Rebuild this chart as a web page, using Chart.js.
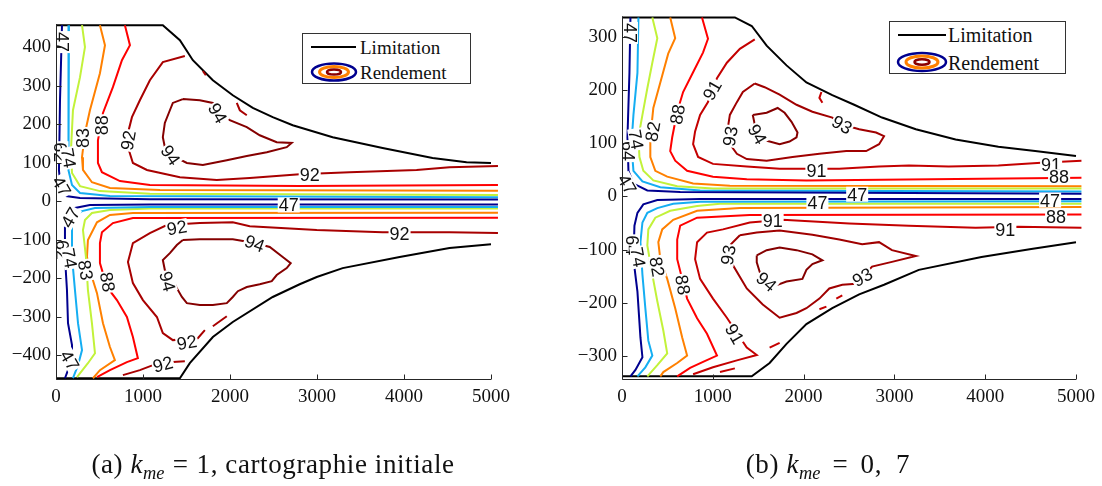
<!DOCTYPE html>
<html><head><meta charset="utf-8">
<script src="https://cdn.jsdelivr.net/npm/chart.js@4/dist/chart.umd.min.js"></script>
<style>
body{margin:0;width:1102px;height:486px;background:#fff;position:relative;overflow:hidden;font-family:'Liberation Serif','Times New Roman',serif;color:#111}
canvas{position:absolute;top:0}
#cA{left:0}
#cB{left:560px}
.leg{position:absolute;border:1px solid #333;background:#fff;box-sizing:border-box}
.leg .t{position:absolute;white-space:nowrap;line-height:1;font-size:19px}
.leg svg{position:absolute;left:0;top:0}
.cap{position:absolute;top:449px;text-align:center;font-size:27px;letter-spacing:0.6px;white-space:nowrap}
.cap sub{font-size:68%;vertical-align:-0.3em;letter-spacing:0}
.cap .op{margin:0 0.3em}
.cap .opb{margin:0 0.45em}
</style></head>
<body>
<canvas id="cA" width="520" height="486"></canvas>
<canvas id="cB" width="542" height="486"></canvas>

<div class="leg" style="left:302px;top:33px;width:169px;height:51px">
  <svg width="169" height="51"><line x1="8" y1="13" x2="53" y2="13" stroke="#000" stroke-width="2"/>
  <ellipse cx="31" cy="38" rx="22" ry="8.5" fill="none" stroke="#00008F" stroke-width="2.5"/>
  <ellipse cx="31" cy="38" rx="14.5" ry="5.5" fill="none" stroke="#FF8000" stroke-width="3"/>
  <ellipse cx="31" cy="38" rx="7" ry="2.6" fill="none" stroke="#8B0000" stroke-width="2.5"/></svg>
  <span class="t" style="left:57px;top:4px">Limitation</span>
  <span class="t" style="left:57px;top:29px">Rendement</span>
</div>
<div class="leg" style="left:889px;top:21px;width:177px;height:53px">
  <svg width="177" height="53"><line x1="8" y1="13" x2="56" y2="13" stroke="#000" stroke-width="2"/>
  <ellipse cx="32" cy="40" rx="24" ry="9" fill="none" stroke="#00008F" stroke-width="2.5"/>
  <ellipse cx="32" cy="40" rx="16" ry="6" fill="none" stroke="#FF8000" stroke-width="3"/>
  <ellipse cx="32" cy="40" rx="7.5" ry="2.8" fill="none" stroke="#8B0000" stroke-width="2.5"/></svg>
  <span class="t" style="left:58px;top:3px;font-size:20px">Limitation</span>
  <span class="t" style="left:58px;top:31px;font-size:20px">Rendement</span>
</div>

<div class="cap" style="left:53px;width:440px">(a) <i>k</i><sub><i>me</i></sub><span class="op">=</span>1, cartographie initiale</div>
<div class="cap" style="left:678px;width:300px">(b) <i>k</i><sub><i>me</i></sub><span class="opb">=</span>0,&ensp;7</div>

<script>
// ---------- tick labels ----------
const xTicks = [0, 1000, 2000, 3000, 4000, 5000];
const yTicksA = [-400, -300, -200, -100, 0, 100, 200, 300, 400];
const yTicksB = [-300, -200, -100, 0, 100, 200, 300];

// ---------- chart (a): k_me = 1 ----------
const limA_top = [[0,457],[1228,457],[1424,418],[1573,366],[1803,314],[2032,275],[2262,242],[2491,218],[2721,197],[3180,166],[3754,138],[4328,112],[4719,101],[5000,99]];
const limA_bot = [[0,-460],[1424,-460],[1538,-421],[1803,-353],[2032,-314],[2491,-249],[2801,-216],[2997,-197],[3295,-174],[3950,-145],[4523,-122],[5000,-112]];
const a47_up = [[69,457],[46,262],[34,80],[57,29],[115,13],[276,8],[1079,5],[5080,4]];
const a62_up = [[149,457],[138,184],[149,80],[184,42],[276,21],[620,13],[5080,10]];
const a74_up = [[299,457],[333,400],[276,322],[195,236],[172,132],[184,73],[276,39],[505,26],[1079,19],[5080,16]];
const a83_up = [[505,457],[563,405],[505,332],[390,236],[333,177],[299,114],[310,81],[413,49],[620,34],[1194,29],[5080,27]];
const a88_up = [[792,457],[850,405],[758,366],[654,296],[540,229],[482,158],[482,99],[528,75],[735,52],[1079,42],[2801,39],[5080,42]];
const a92_up = [[1481,377],[1228,361],[1079,314],[964,262],[873,218],[827,177],[827,140],[884,99],[1045,81],[1424,62],[1848,55],[2227,60],[2801,70],[3375,75],[4145,81],[4523,88],[5080,91]];
const a92_upD1 = [[1688,338],[1722,327]];
const a92_upD2 = [[2078,255],[2113,236],[2193,223]];
const a94_up = [[1458,265],[1653,262],[1803,255],[1998,210],[2193,192],[2342,171],[2537,153],[2709,151],[2652,140],[2423,127],[2193,117],[1963,106],[1688,94],[1504,99],[1389,112],[1251,140],[1228,166],[1251,203],[1309,236],[1343,255],[1458,265]];
const a47_lo = [[5080,-9],[1079,-9],[390,-10],[218,-18],[138,-31],[103,-62],[103,-145],[126,-231],[138,-317],[184,-374],[184,-405],[138,-439],[103,-460]];
const a62_lo = [[5080,-15],[1079,-15],[448,-18],[299,-26],[218,-39],[184,-62],[184,-145],[218,-231],[253,-317],[299,-387],[253,-426],[195,-460]];
const a74_lo = [[5080,-19],[1079,-19],[620,-23],[413,-31],[333,-49],[310,-75],[344,-145],[367,-231],[413,-317],[448,-395],[367,-421],[241,-457]];
const a83_lo = [[5080,-30],[884,-31],[620,-36],[471,-55],[367,-101],[356,-145],[413,-197],[471,-239],[540,-317],[620,-379],[677,-413],[505,-439],[425,-460]];
const a88_lo = [[5080,-43],[884,-44],[654,-57],[528,-81],[505,-109],[505,-161],[586,-223],[700,-257],[815,-301],[884,-353],[941,-408],[815,-418],[620,-439],[471,-457]];
const a92_lo = [[5080,-83],[4523,-81],[3754,-81],[2997,-75],[2227,-65],[2032,-55],[1653,-57],[1274,-62],[1079,-83],[884,-109],[827,-158],[884,-213],[999,-257],[1160,-301],[1228,-343],[1343,-361],[1630,-356],[1711,-335]];
const a92_loD = [[1803,-325],[1963,-299]];
const a92_loB = [[769,-452],[964,-439],[1114,-426],[1343,-418],[1481,-416]];
const a94_lo = [[1458,-101],[1653,-99],[2032,-99],[2285,-109],[2457,-119],[2606,-145],[2698,-161],[2652,-174],[2537,-192],[2480,-208],[2342,-216],[2193,-223],[2090,-234],[2032,-249],[1963,-265],[1803,-270],[1653,-270],[1504,-265],[1447,-249],[1389,-226],[1343,-205],[1251,-179],[1228,-153],[1309,-135],[1389,-114],[1458,-101]];
// contour labels: [text, x, y, angle°]
const labA = [['47',80,413,90],['62',57,127,90],['74',149,112,80],['83',310,164,-90],['88',528,197,-90],['92',827,158,-80],
  ['94',1860,229,60],['94',1320,120,55],['92',2916,70,0],['47',69,39,60],['47',2675,-10,0],['47',161,-42,-60],
  ['62',69,-127,90],['74',161,-148,80],['83',344,-179,80],['88',597,-210,80],['92',1389,-68,-10],['94',2285,-109,20],
  ['94',1286,-208,75],['92',3949,-83,0],['92',1504,-366,-10],['92',1228,-423,-15],['47',161,-413,60]];

// ---------- chart (b): k_me = 0,7 ----------
const limB_top = [[0,336],[1243,336],[1429,320],[1593,283],[1812,246],[2031,214],[2316,190],[2557,172],[2864,148],[3236,126],[3674,107],[4145,93],[4550,85],[5000,76]];
const limB_bot = [[0,-338],[1429,-338],[1626,-313],[1812,-277],[2031,-240],[2316,-210],[2612,-184],[2886,-166],[3269,-138],[3959,-114],[4507,-99],[5000,-86]];
const b47_up = [[93,336],[82,232],[60,111],[71,48],[126,24],[279,11],[641,8],[5060,5]];
const b64_up = [[181,336],[170,232],[126,153],[104,98],[126,48],[225,28],[422,17],[860,11],[5060,9]];
const b74_up = [[334,336],[389,297],[334,251],[279,203],[225,153],[181,111],[192,74],[235,48],[345,30],[608,19],[1002,15],[5060,15]];
const b82_up = [[531,336],[586,297],[509,268],[422,214],[345,166],[312,111],[312,74],[367,48],[498,37],[783,24],[1188,20],[5060,19]];
const b88_up = [[881,336],[947,296],[892,270],[783,233],[673,196],[608,159],[553,111],[531,85],[586,67],[717,48],[1002,37],[1374,32],[2031,30],[5060,35]];
const b91_up = [[1462,295],[1298,277],[1155,251],[1046,222],[947,177],[860,153],[805,122],[783,98],[838,74],[1002,61],[1374,56],[1736,52],[2393,52],[2831,56],[3160,58],[3598,56],[4145,58],[4616,63],[5060,67]];
const b91_upF = [[2196,196],[2174,185],[2207,176]];
const b93_up = [[1462,212],[1331,196],[1265,177],[1188,153],[1166,129],[1188,98],[1265,80],[1374,70],[1593,67],[1878,74],[2174,80],[2470,85],[2689,85],[2831,98],[2886,113],[2798,120],[2612,126],[2426,135],[2316,148],[2097,159],[1922,172],[1736,191],[1571,205],[1462,212]];
const b94_up = [[1440,153],[1593,157],[1714,166],[1791,157],[1867,140],[1933,120],[1922,111],[1845,103],[1736,98],[1626,103],[1538,107],[1462,135],[1440,153]];
const b47_lo = [[5060,-5],[860,-5],[389,-7],[235,-15],[170,-31],[137,-55],[126,-118],[170,-179],[203,-265],[225,-302],[148,-326],[93,-338]];
const b64_lo = [[5060,-9],[860,-10],[564,-14],[389,-22],[279,-31],[225,-49],[203,-86],[225,-147],[257,-210],[290,-271],[334,-299],[257,-321],[170,-338]];
const b74_lo = [[5060,-14],[1079,-14],[827,-18],[531,-27],[367,-40],[290,-62],[279,-92],[334,-147],[389,-197],[455,-252],[498,-295],[389,-317],[279,-338]];
const b82_lo = [[5060,-20],[1298,-22],[827,-27],[564,-44],[443,-62],[400,-86],[422,-118],[498,-155],[586,-210],[663,-265],[717,-299],[608,-313],[455,-330],[422,-338]];
const b88_lo = [[5060,-34],[1407,-35],[827,-40],[641,-55],[608,-81],[608,-118],[717,-192],[827,-229],[936,-258],[1046,-299],[893,-311],[750,-322],[608,-338]];
const b91_lo = [[5060,-59],[4365,-57],[3894,-59],[3160,-55],[2503,-51],[1769,-44],[1407,-49],[1112,-62],[936,-68],[827,-86],[805,-118],[860,-155],[1002,-192],[1155,-228],[1374,-284],[1484,-298],[1265,-308],[1002,-321],[783,-334]];
const b91_loD1 = [[1079,-330],[1243,-323]];
const b91_loD2 = [[1626,-284],[1736,-275]];
const b91_loD3 = [[2174,-212],[2251,-207]];
const b91_loD4 = [[2360,-192],[2426,-186]];
const b93_lo = [[1298,-73],[1484,-68],[1736,-64],[2097,-72],[2393,-81],[2645,-90],[2831,-86],[2973,-101],[3236,-112],[2973,-123],[2754,-132],[2579,-164],[2426,-166],[2283,-173],[2174,-192],[2031,-210],[1922,-219],[1736,-228],[1550,-203],[1374,-173],[1221,-129],[1188,-92],[1298,-73]];
const b94_lo = [[1484,-111],[1593,-101],[1736,-96],[1922,-101],[2097,-109],[2207,-120],[2097,-127],[2031,-138],[1987,-155],[1812,-160],[1681,-168],[1517,-142],[1484,-124],[1484,-111]];
const labB = [['47',93,307,90],['64',71,85,90],['74',159,107,80],['82',334,122,-80],['88',608,154,-80],['91',991,200,-60],
  ['93',1188,113,-80],['94',1495,117,60],['93',2426,135,30],['91',2141,48,0],['47',60,23,60],['47',2152,-11,0],
  ['47',2590,4,0],['91',4726,59,0],['88',4814,37,0],['47',4715,-7,0],['88',4781,-37,0],['91',4222,-62,0],
  ['91',1659,-46,0],['64',115,-92,90],['74',181,-114,80],['82',389,-132,80],['88',673,-166,80],['93',1166,-110,-80],
  ['94',1593,-160,40],['91',1243,-258,60],['93',2645,-151,-30]];

// ---------- colours ----------
const C = {k:'#000000', c47:'#00008F', c62:'#15AEF2', c74:'#C2F23A', c83:'#FF8000', c88:'#FF0000',
           c91:'#C40000', c92:'#A80000', c93:'#A00000', c94:'#850000'};

function ds(arr, color, w){
  return {data: arr.map(p => ({x:p[0], y:p[1]})), borderColor: color, backgroundColor: color,
          borderWidth: w || 2, showLine: true, pointRadius: 0, fill: false, tension: 0, clip: false};
}
function labelPlugin(labels){
  return {id:'clabels', afterDatasetsDraw(chart){
    const ctx = chart.ctx, xs = chart.scales.x, ys = chart.scales.y;
    ctx.save();
    ctx.font = '18px "Liberation Sans", Arial, sans-serif';
    for (const [t, vx, vy, ang] of labels){
      const px = xs.getPixelForValue(vx), py = ys.getPixelForValue(vy);
      ctx.save(); ctx.translate(px, py); ctx.rotate(ang * Math.PI / 180);
      const w = ctx.measureText(t).width;
      ctx.fillStyle = '#fff'; ctx.fillRect(-w/2 - 1, -7.5, w + 2, 15);
      ctx.fillStyle = '#111'; ctx.textAlign = 'center'; ctx.textBaseline = 'alphabetic';
      ctx.fillText(t, 0, 6.5);
      ctx.restore();
    }
    ctx.restore();
  }};
}
function axesPlugin(xT, yT){
  return {id:'axes', afterDraw(chart){
    const ctx = chart.ctx, a = chart.chartArea, xs = chart.scales.x, ys = chart.scales.y;
    const L = Math.round(a.left) + 0.5, B = Math.round(a.bottom) + 0.5;
    ctx.save(); ctx.strokeStyle = '#262626'; ctx.lineWidth = 1; ctx.beginPath();
    ctx.moveTo(L, a.top); ctx.lineTo(L, B); ctx.lineTo(a.right, B);
    xT.forEach(v => { const p = Math.round(xs.getPixelForValue(v)) + 0.5; ctx.moveTo(p, B); ctx.lineTo(p, B - 5); });
    yT.forEach(v => { const p = Math.round(ys.getPixelForValue(v)) + 0.5; ctx.moveTo(L, p); ctx.lineTo(L + 5, p); });
    ctx.stroke(); ctx.restore();
  }};
}
function makeChart(id, datasets, labels, yMin, yMax, yT, axW, padR, padT){
  return new Chart(document.getElementById(id), {
    type: 'scatter',
    data: {datasets},
    options: {
      responsive: false, animation: false, devicePixelRatio: 1,
      layout: {padding: {left: 0, right: padR, top: padT, bottom: 0}},
      plugins: {legend: {display: false}, tooltip: {enabled: false}},
      scales: {
        x: {type: 'linear', min: 0, max: 5000,
            afterBuildTicks: s => { s.ticks = xTicks.map(v => ({value: v})); },
            afterFit: s => { s.height = 107; },
            grid: {display: false, drawTicks: false}, border: {display: false},
            ticks: {font: {family: 'Liberation Serif', size: 19}, color: '#111', padding: 7, maxRotation: 0,
                    callback: v => String(v)}},
        y: {type: 'linear', min: yMin, max: yMax,
            afterBuildTicks: s => { s.ticks = yT.map(v => ({value: v})); },
            afterFit: s => { s.width = axW; },
            grid: {display: false, drawTicks: false}, border: {display: false},
            ticks: {font: {family: 'Liberation Serif', size: 19}, color: '#111', padding: 5,
                    callback: v => (v < 0 ? '\u2212' + Math.abs(v) : String(v))}}
      }
    },
    plugins: [labelPlugin(labels), axesPlugin(xTicks, yT)]
  });
}

makeChart('cA', [
  ds(a47_up, C.c47), ds(a62_up, C.c62), ds(a74_up, C.c74), ds(a83_up, C.c83), ds(a88_up, C.c88),
  ds(a92_up, C.c92), ds(a92_upD1, C.c92), ds(a92_upD2, C.c92), ds(a94_up, C.c94),
  ds(a47_lo, C.c47), ds(a62_lo, C.c62), ds(a74_lo, C.c74), ds(a83_lo, C.c83), ds(a88_lo, C.c88),
  ds(a92_lo, C.c92), ds(a92_loD, C.c92), ds(a92_loB, C.c92), ds(a94_lo, C.c94),
  ds(limA_top, C.k), ds(limA_bot, C.k)
], labA, -462, 460, yTicksA, 56, 29, 24);

makeChart('cB', [
  ds(b47_up, C.c47), ds(b64_up, C.c62), ds(b74_up, C.c74), ds(b82_up, C.c83), ds(b88_up, C.c88),
  ds(b91_up, C.c91), ds(b91_upF, C.c91), ds(b93_up, C.c93), ds(b94_up, C.c94),
  ds(b47_lo, C.c47), ds(b64_lo, C.c62), ds(b74_lo, C.c74), ds(b82_lo, C.c83), ds(b88_lo, C.c88),
  ds(b91_lo, C.c91), ds(b91_loD1, C.c91), ds(b91_loD2, C.c91), ds(b91_loD3, C.c91), ds(b91_loD4, C.c91),
  ds(b93_lo, C.c93), ds(b94_lo, C.c94),
  ds(limB_top, C.k), ds(limB_bot, C.k)
], labB, -343, 338, yTicksB, 62, 24, 10);
</script>
</body></html>
